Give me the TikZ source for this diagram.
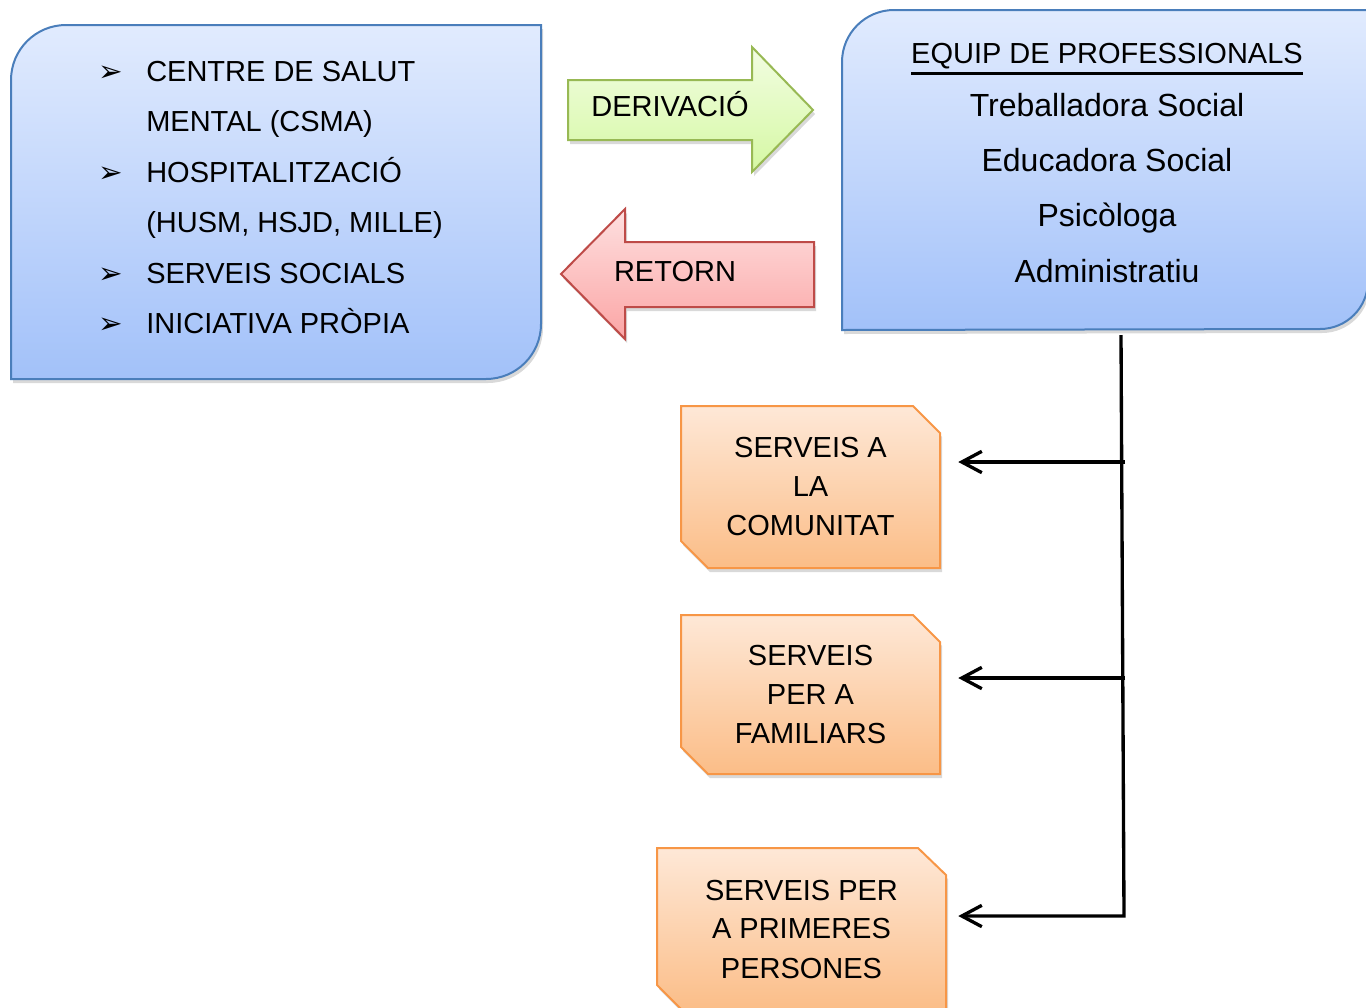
\documentclass[tikz,border=0pt]{standalone}
\usepackage{fontspec}
\setmainfont{Liberation Sans}
\newfontfamily\dingfont{DejaVu Sans}
\newcommand\thickul[1]{\vtop{\hbox{#1}\kern2.6pt\hrule height 1.6pt}}
\usetikzlibrary{arrows.meta,shadows}
\definecolor{bluetop}{HTML}{E1EBFE}
\definecolor{bluebot}{HTML}{A2C1F9}
\definecolor{blueline}{HTML}{4A7EBB}
\definecolor{greentop}{HTML}{F2FDE2}
\definecolor{greenbot}{HTML}{D5F8A3}
\definecolor{greenline}{HTML}{98B954}
\definecolor{redtop}{HTML}{FEE0E0}
\definecolor{redbot}{HTML}{FBA5A5}
\definecolor{redline}{HTML}{BE4B48}
\definecolor{orangetop}{HTML}{FEE8D7}
\definecolor{orangebot}{HTML}{FBBD87}
\definecolor{orangeline}{HTML}{F79646}
\begin{document}
\begin{tikzpicture}[x=0.75pt,y=-0.75pt,inner sep=0,
		txt/.style={font=\fontsize{21.75}{29.25}\selectfont,align=center},
		team/.style={font=\fontsize{24}{28}\selectfont},
		bul/.style={font=\dingfont\fontsize{22}{24}\selectfont},
		soft/.style={drop shadow={shadow xshift=1.5pt,shadow yshift=-3pt,opacity=0.3}},
		bluebox/.style={draw=blueline,line width=1.5pt,top color=bluetop,bottom color=bluebot,soft},
		greenarr/.style={draw=greenline,line width=1.5pt,top color=greentop,bottom color=greenbot,soft},
		redarr/.style={draw=redline,line width=1.5pt,top color=redtop,bottom color=redbot,soft},
		orangebox/.style={draw=orangeline,line width=1.5pt,top color=orangetop,bottom color=orangebot,soft},
		branch/.style={line width=2.5pt,-{Straight Barb[length=15pt,width=16pt]}}]
		\useasboundingbox (0,0) rectangle (1366,1007);
		\clip (0,0) rectangle (1366,1007);
		\draw[bluebox] (11,379) -- (11,80) arc[start angle=180,end angle=90,radius=41.25pt] -- (541,25) -- (541,324) arc[start angle=0,end angle=-90,radius=41.25pt] -- cycle;
		\draw[bluebox] (842,330) -- (842,62) arc[start angle=180,end angle=90,radius=39pt] -- (1368,10) -- (1368,281) arc[start angle=0,end angle=-90,radius=36pt] -- cycle;
		\draw[greenarr] (568,80) -- (752,80) -- (752,47) -- (813,110) -- (752,172) -- (752,140) -- (568,140) -- cycle;
		\draw[redarr] (561,274) -- (625,209) -- (625,242) -- (814,242) -- (814,307) -- (625,307) -- (625,339) -- cycle;
		\draw[orangebox] (681,406) -- (913,406) -- (940,433) -- (940,568) -- (708,568) -- (681,541) -- cycle;
		\draw[orangebox] (681,615) -- (913,615) -- (940,642) -- (940,774) -- (708,774) -- (681,747) -- cycle;
		\draw[orangebox] (657,848) -- (918,848) -- (946,875) -- (946,1012) -- (684,1012) -- (657,985) -- cycle;
		\node[bul,anchor=base west] (b1) at (98,81) {➢};
		\node[bul,anchor=base west] (b2) at (98,182) {➢};
		\node[bul,anchor=base west] (b3) at (98,283) {➢};
		\node[bul,anchor=base west] (b4) at (98,333.5) {➢};
		\node[txt,anchor=base west] (L1) at (146,81) {CENTRE DE SALUT};
		\node[txt,anchor=base west] (L2) at (146,131.5) {MENTAL (CSMA)};
		\node[txt,anchor=base west] (L3) at (146,182) {HOSPITALITZACIÓ};
		\node[txt,anchor=base west] (L4) at (146,232.5) {(HUSM, HSJD, MILLE)};
		\node[txt,anchor=base west] (L5) at (146,283) {SERVEIS SOCIALS};
		\node[txt,anchor=base west] (L6) at (146,333.5) {INICIATIVA PRÒPIA};
		\node[txt,anchor=base] (DER) at (670,116.5) {DERIVACIÓ};
		\node[txt,anchor=base] (RET) at (675,281) {RETORN};
		\node[txt,anchor=base] (EQ) at (1107,63.5) {\thickul{EQUIP DE PROFESSIONALS}};
		\node[team,anchor=base] (T1) at (1107,116.5) {Treballadora Social};
		\node[team,anchor=base] (T2) at (1107,171.5) {Educadora Social};
		\node[team,anchor=base] (T3) at (1107,226.5) {Psicòloga};
		\node[team,anchor=base] (T4) at (1107,282) {Administratiu};
		\node[txt,minimum width=194.25pt] (COM) at (810.5,487) {SERVEIS A\\LA\\COMUNITAT};
		\node[txt,minimum width=194.25pt] (FAM) at (810.5,695) {SERVEIS\\PER A\\FAMILIARS};
		\node[txt,minimum width=216.75pt] (PRI) at (801.5,929) {SERVEIS PER\\A PRIMERES\\PERSONES};
		\coordinate (stem) at (1121,335);
		\coordinate (j1) at (1125,462);
		\coordinate (j2) at (1125,678);
		\coordinate (j3) at (1124,916);
		\draw[branch] (stem) -- (j3) -- ([xshift=9pt]j3 -| PRI.east);
		\draw[branch] (j1) -- ([xshift=13.5pt]j1 -| COM.east);
		\draw[branch] (j2) -- ([xshift=13.5pt]j2 -| FAM.east);
	\end{tikzpicture}
\end{document}
